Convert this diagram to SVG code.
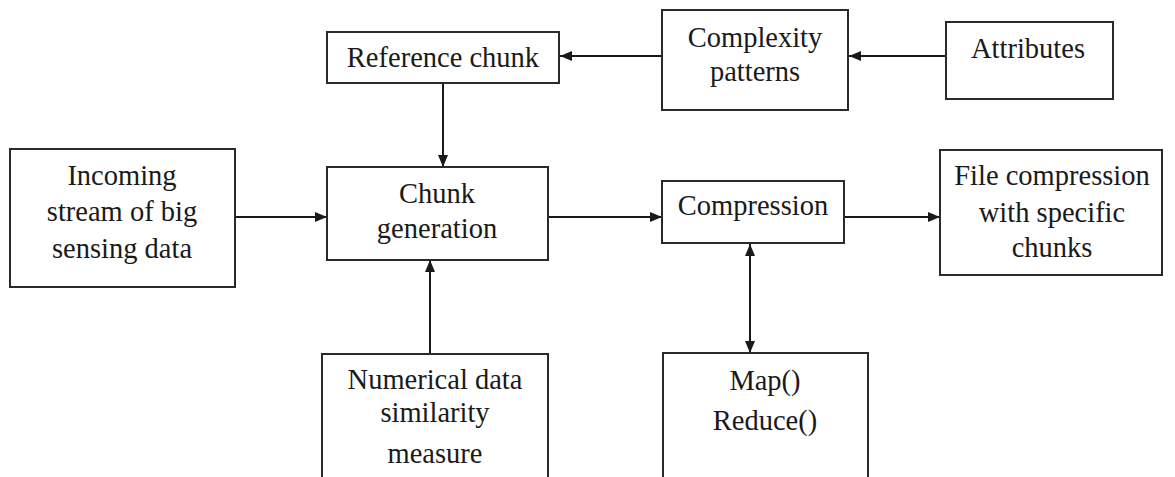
<svg xmlns="http://www.w3.org/2000/svg" width="1175" height="477" viewBox="0 0 1175 477">
<defs>
<marker id="ah" viewBox="0 0 12 10" refX="12" refY="5" markerWidth="12" markerHeight="10" markerUnits="userSpaceOnUse" orient="auto-start-reverse">
<path d="M0,0 L12,5 L0,10 Z" fill="#1a1a1a"/>
</marker>
</defs>
<style>
rect { fill: #fff; stroke: #2a2a2a; stroke-width: 2; }
text { font-family: 'Liberation Serif', 'DejaVu Serif', serif; font-size: 28.5px; fill: #1a1a1a; text-anchor: middle; }
.c { stroke: #1a1a1a; stroke-width: 2; fill: none; }
</style>
<rect x="0" y="0" width="1175" height="477" style="stroke:none;fill:#fff"/>
<g id="connectors">
<line class="c" x1="662" y1="56" x2="560" y2="56" marker-end="url(#ah)"/>
<line class="c" x1="946" y1="56" x2="849" y2="56" marker-end="url(#ah)"/>
<line class="c" x1="443" y1="83" x2="443" y2="167" marker-end="url(#ah)"/>
<line class="c" x1="235" y1="217" x2="327" y2="217" marker-end="url(#ah)"/>
<line class="c" x1="548" y1="217" x2="662" y2="217" marker-end="url(#ah)"/>
<line class="c" x1="844" y1="217" x2="940" y2="217" marker-end="url(#ah)"/>
<line class="c" x1="430" y1="354" x2="430" y2="260" marker-end="url(#ah)"/>
<line class="c" x1="750" y1="244" x2="750" y2="353" marker-start="url(#ah)" marker-end="url(#ah)"/>
</g>
<g id="reference-chunk">
<rect x="327" y="32" width="232" height="51"/>
<text x="443" y="67">Reference chunk</text>
</g>
<g id="complexity-patterns">
<rect x="662" y="10" width="186" height="100"/>
<text x="755" y="47">Complexity</text>
<text x="755" y="81">patterns</text>
</g>
<g id="attributes">
<rect x="946" y="22" width="167" height="77"/>
<text x="1028" y="58">Attributes</text>
</g>
<g id="incoming">
<rect x="10" y="149" width="225" height="138"/>
<text x="122" y="185">Incoming</text>
<text x="122" y="221">stream of big</text>
<text x="122" y="258">sensing data</text>
</g>
<g id="chunk-generation">
<rect x="327" y="167" width="221" height="93"/>
<text x="437" y="203">Chunk</text>
<text x="437" y="238">generation</text>
</g>
<g id="compression">
<rect x="662" y="181" width="182" height="62"/>
<text x="753" y="215">Compression</text>
</g>
<g id="file-compression">
<rect x="940" y="150" width="222" height="125"/>
<text x="1052" y="185">File compression</text>
<text x="1052" y="222">with specific</text>
<text x="1052" y="257">chunks</text>
</g>
<g id="numerical">
<rect x="322" y="354" width="226" height="140"/>
<text x="435" y="389">Numerical data</text>
<text x="435" y="422">similarity</text>
<text x="435" y="463">measure</text>
</g>
<g id="mapreduce">
<rect x="663" y="353" width="205" height="140"/>
<text x="765" y="390">Map()</text>
<text x="765" y="430">Reduce()</text>
</g>
</svg>
